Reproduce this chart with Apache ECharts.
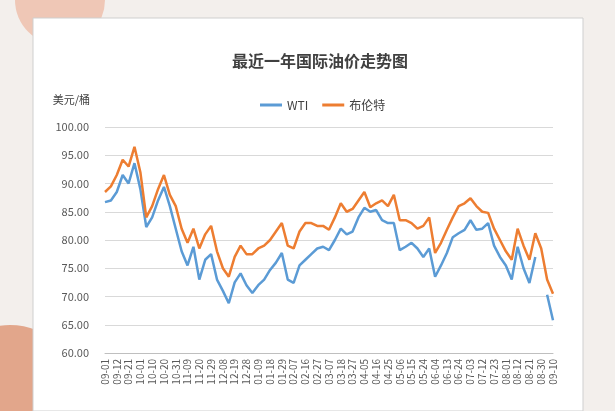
<!DOCTYPE html>
<html><head><meta charset="utf-8">
<script src="https://cdn.jsdelivr.net/npm/echarts@6/dist/echarts.min.js"></script>
<style>html,body{margin:0;padding:0;background:#f3efec;}#c{width:615px;height:411px;}</style>
</head><body><div id="c"></div>
<script>
const categories = ['09-01','09-06','09-12','09-15','09-21','09-26','10-01','10-05','10-10','10-15','10-20','10-25','10-31','11-03','11-09','11-15','11-20','11-24','11-29','12-04','12-08','12-13','12-19','12-22','12-28','01-03','01-09','01-12','01-18','01-23','01-29','02-01','02-07','02-12','02-16','02-21','02-27','03-01','03-07','03-12','03-18','03-21','03-27','03-31','04-05','04-10','04-16','04-19','04-25','05-01','05-06','05-10','05-15','05-19','05-24','05-29','06-04','06-07','06-13','06-18','06-24','06-27','07-03','07-07','07-12','07-17','07-23','07-26','08-01','08-06','08-12','08-15','08-21','08-24','08-30','09-04','09-10'];
const brent = [88.5,89.5,91.5,94.2,93,96.5,92,84,86,89,91.5,88,86,82,79.5,82,78.5,81,82.5,78,75,73.5,77,79,77.5,77.5,78.5,79,80,81.5,83,79,78.5,81.5,83,83,82.5,82.5,81.8,84,86.5,85,85.5,87,88.5,85.8,86.5,87,86,88,83.5,83.5,83,82,82.5,84,77.7,79.5,81.8,84,86,86.5,87.4,86,85,84.8,82,80,78,76.5,82,79,76.5,81.2,78.5,73,70.5];
const wti = [86.7,87,88.5,91.5,90,93.6,89,82.3,84,87,89.4,86,82,78,75.5,78.8,73,76.5,77.5,73,71,68.8,72.5,74.1,72,70.6,72,73,74.7,76,77.7,73,72.4,75.5,76.5,77.5,78.5,78.8,78.2,80,82,81,81.5,84,85.7,85,85.3,83.5,83,83,78.2,78.8,79.5,78.5,77,78.5,73.5,75.5,77.7,80.5,81.2,81.8,83.5,81.8,82,83,79,77,75.5,73,78.8,75,72.4,77,null,70.3,65.8];
const chart = echarts.init(document.getElementById('c'));
const F = '"Noto Sans CJK SC", "Noto Sans", sans-serif';
chart.setOption({
  animation:false,
  graphic:[
    {type:'circle',shape:{cx:10,cy:395,r:70},style:{fill:'#e2a68b'},z:-10},
    {type:'circle',shape:{cx:60,cy:0,r:45},style:{fill:'#efc7b6'},z:-10},
    {type:'rect',shape:{x:33,y:18,width:550,height:393},style:{fill:'#ffffff',stroke:'#cfcfcf'},z:-5}
  ],
  title:{text:'最近一年国际油价走势图',left:315,top:48,textAlign:'center',textStyle:{fontFamily:F,fontSize:16,fontWeight:'bold',color:'#404040'}},
  legend:{top:94,left:255,itemWidth:22,itemHeight:3,itemGap:14,textStyle:{fontFamily:F,fontSize:12,color:'#404040'},icon:'rect',data:['WTI','布伦特']},
  grid:{left:105,right:62,top:127,bottom:58},
  xAxis:{type:'category',data:categories,boundaryGap:false,
    axisLine:{lineStyle:{color:'#bfbfbf'}},axisTick:{show:false},
    axisLabel:{interval:1,rotate:90,fontSize:10,color:'#595959',fontFamily:F,margin:6}},
  yAxis:{type:'value',min:60,max:100,interval:5,name:'美元/桶',nameLocation:'end',nameGap:22,
    nameTextStyle:{fontFamily:F,fontSize:11,color:'#404040',align:'right',padding:[0,15,0,0]},
    axisLine:{show:false},axisTick:{show:false},
    axisLabel:{formatter:v=>v.toFixed(2),fontSize:11,color:'#595959',fontFamily:F,margin:16},
    splitLine:{lineStyle:{color:'#d9d9d9'}}},
  series:[
    {name:'WTI',type:'line',data:wti,showSymbol:false,symbol:'none',lineStyle:{width:2.5,color:'#5b9bd5'},itemStyle:{color:'#5b9bd5'},connectNulls:false},
    {name:'布伦特',type:'line',data:brent,showSymbol:false,symbol:'none',lineStyle:{width:2.5,color:'#ed7d31'},itemStyle:{color:'#ed7d31'}}
  ]
});
</script></body></html>
